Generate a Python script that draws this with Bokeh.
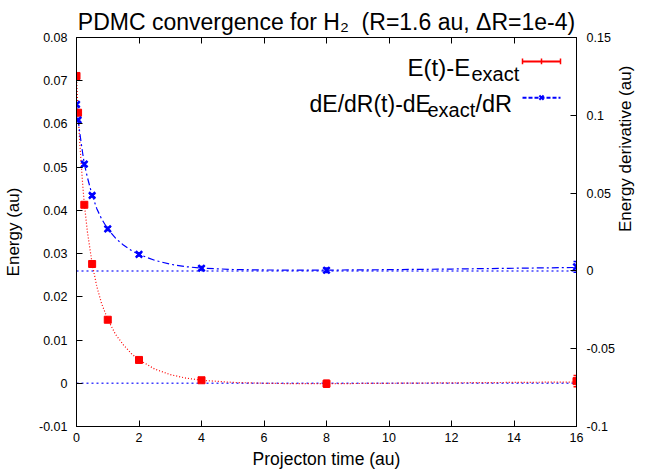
import math
from bokeh.plotting import figure
from bokeh.models import (Range1d, LinearAxis, FixedTicker, CustomJSTickFormatter,
                          Label, Whisker, TeeHead, ColumnDataSource)
from bokeh.embed import file_html
from bokeh.resources import INLINE

# ---------------- data ----------------
t_data = [0, 0.05, 0.25, 0.5, 1, 2, 4, 8, 16]
e_data = [0.0711, 0.0626, 0.0413, 0.0276, 0.0147, 0.0054, 0.0007, -0.0001, 0.0005]
e_err = [0.0004, 0.0004, 0.0003, 0.0003, 0.0003, 0.0003, 0.0004, 0.0008, 0.0013]
d_data = [0.107, 0.097, 0.0686, 0.0485, 0.027, 0.0106, 0.0017, 0.0004, 0.0026]
d_err = [0.001, 0.001, 0.001, 0.001, 0.001, 0.001, 0.0012, 0.0015, 0.0035]

t_fit = [0, 0.05, 0.1, 0.15, 0.2, 0.25, 0.35, 0.5, 0.65, 0.8, 1, 1.25, 1.5, 1.75,
         2, 2.5, 3, 3.5, 4, 5, 6, 7, 8, 10, 12, 14, 16]
e_fit = [0.0711, 0.0628, 0.0563, 0.0508, 0.0458, 0.0415, 0.0350, 0.0277, 0.0224,
         0.0185, 0.0148, 0.0113, 0.0089, 0.0069, 0.0054, 0.0033, 0.0020, 0.0012,
         0.0007, 0.0002, 0.0000, -0.0001, -0.0001, 0.0000, 0.0001, 0.0002, 0.0003]
d_fit = [0.107, 0.0975, 0.0895, 0.0822, 0.0753, 0.0688, 0.0600, 0.0487, 0.0400,
         0.0335, 0.0270, 0.0210, 0.0166, 0.0132, 0.0106, 0.0068, 0.0043, 0.0027,
         0.0018, 0.0009, 0.0006, 0.0005, 0.0005, 0.0008, 0.0012, 0.0017, 0.0022]

zero_t = [0, 16]
zero_v = [0, 0]

x_ticks = [0, 2, 4, 6, 8, 10, 12, 14, 16]
y_ticks = [-0.01, 0, 0.01, 0.02, 0.03, 0.04, 0.05, 0.06, 0.07, 0.08]
y2_ticks = [-0.1, -0.05, 0, 0.05, 0.1, 0.15]

title_text = "PDMC convergence for H\u2082 \u00a0(R=1.6 au, \u0394R=1e-4)"
leg1_main, leg1_sub = "E(t)-E", "exact"
leg2_main, leg2_sub, leg2_tail = "dE/dR(t)-dE", "exact", "/dR"
xlabel = "Projecton time (au)"
ylabel = "Energy (au)"
y2label = "Energy derivative (au)"

# ---------------- layout ----------------
W, H = 647, 471
FL, FR, FT, FB = 76, 576, 37, 428
XMIN, XMAX, YMIN, YMAX = 0, 16, -0.01, 0.08
FONT = "Liberation Sans"
RED = "#ff0000"
BLUE = "#0000ff"


def dx(px):
    return XMIN + (px - FL) * (XMAX - XMIN) / (FR - FL)


def dy(py):
    return YMIN + (FB - py) * (YMAX - YMIN) / (FB - FT)


p = figure(width=W, height=H, output_backend="svg", toolbar_location=None,
           x_range=Range1d(XMIN, XMAX), y_range=Range1d(YMIN, YMAX),
           min_border_left=FL, min_border_right=W - FR,
           min_border_top=FT, min_border_bottom=H - FB,
           title=title_text)
p.title.align = "center"
p.title.text_font = FONT
p.title.text_font_size = "23px"
p.title.text_font_style = "normal"
p.title.text_color = "black"
p.title.standoff = 5
p.extra_y_ranges = {"y2": Range1d(-0.1, 0.15)}
p.xgrid.visible = False
p.ygrid.visible = False
p.outline_line_color = "black"
p.outline_line_width = 1
p.background_fill_color = "white"
p.border_fill_color = "white"

fmt_code = "return String(Math.round(tick*10000)/10000);"


def style(ax, ticks, standoff, labels=True):
    ax.ticker = FixedTicker(ticks=ticks, minor_ticks=[])
    if labels:
        ax.formatter = CustomJSTickFormatter(code=fmt_code)
    else:
        ax.formatter = CustomJSTickFormatter(code="return '';")
    ax.major_tick_in = 6
    ax.major_tick_out = 0
    ax.minor_tick_in = 0
    ax.minor_tick_out = 0
    ax.axis_line_color = "black"
    ax.major_tick_line_color = "black"
    ax.major_label_text_font = FONT
    ax.major_label_text_font_size = "12.5px"
    ax.major_label_text_color = "black"
    ax.major_label_standoff = standoff
    ax.axis_label_text_font = FONT
    ax.axis_label_text_font_style = "normal"
    ax.axis_label_text_color = "black"
    ax.axis_label_text_font_size = "17px"


style(p.xaxis[0], x_ticks, 6)
p.xaxis[0].axis_label = xlabel
p.xaxis[0].axis_label_standoff = 4
p.xaxis[0].axis_label_text_font_size = "17.5px"
style(p.yaxis[0], y_ticks, 9)
p.yaxis[0].axis_label = ylabel
p.yaxis[0].axis_label_standoff = 13
ax_r = LinearAxis(y_range_name="y2")
style(ax_r, y2_ticks, 10)
ax_r.axis_label = y2label
ax_r.axis_label_standoff = 8
ax_r.axis_label_orientation = math.pi / 2
p.add_layout(ax_r, "right")
ax_t = LinearAxis()
style(ax_t, x_ticks, 0, labels=False)
ax_t.major_label_text_font_size = "0px"
p.add_layout(ax_t, "above")

# zero lines
p.line(zero_t, zero_v, line_color=BLUE, line_dash="2 3", line_width=1.5, line_alpha=0.75)
p.line(zero_t, zero_v, y_range_name="y2", line_color=BLUE, line_dash="2 3",
       line_width=1.5, line_alpha=0.75)

# fit curves
p.line(t_fit, e_fit, line_color=RED, line_dash="1 2", line_width=1.2)
p.line(t_fit, d_fit, y_range_name="y2", line_color=BLUE, line_dash="7 3 2 3", line_width=1.2)

# error bars
src_e = ColumnDataSource(dict(t=t_data, lo=[v - e for v, e in zip(e_data, e_err)],
                              hi=[v + e for v, e in zip(e_data, e_err)]))
src_d = ColumnDataSource(dict(t=t_data, lo=[v - e for v, e in zip(d_data, d_err)],
                              hi=[v + e for v, e in zip(d_data, d_err)]))
p.add_layout(Whisker(source=src_e, base="t", lower="lo", upper="hi", dimension="height",
                     line_color=RED, line_width=1.5,
                     lower_head=TeeHead(size=6, line_color=RED, line_width=1.5),
                     upper_head=TeeHead(size=6, line_color=RED, line_width=1.5)))
p.add_layout(Whisker(source=src_d, base="t", lower="lo", upper="hi", dimension="height",
                     y_range_name="y2", line_color=BLUE, line_width=1.5,
                     lower_head=TeeHead(size=6, line_color=BLUE, line_width=1.5),
                     upper_head=TeeHead(size=6, line_color=BLUE, line_width=1.5)))

# points
p.scatter(t_data, e_data, marker="square", size=7, fill_color=RED, line_color=RED)
p.scatter(t_data, d_data, y_range_name="y2", marker="x", size=9, line_color=BLUE,
          line_width=2.5)


def lab(text, px, py, size, align="left", baseline="alphabetic", angle=0.0):
    p.add_layout(Label(x=dx(px), y=dy(py), text=text, text_font=FONT,
                       text_font_size=size, text_align=align, text_baseline=baseline,
                       angle=angle, text_color="black"))


# legend texts
lab(leg1_main, 407, 67, "24px")
lab(leg1_sub, 471, 73.5, "20px")
lab(leg2_main, 309, 103.5, "23px")
lab(leg2_sub, 427, 110, "20px")
lab(leg2_tail, 475, 103.5, "23.5px")

# legend samples
lx0, lx1, lxm = dx(522), dx(560), dx(541)
ly1, ly2 = dy(61), dy(97.5)
tick_h = dy(58) - dy(61)
p.segment([lx0], [ly1], [lx1], [ly1], line_color=RED, line_width=2)
p.segment([lx0, lxm, lx1], [ly1 - tick_h] * 3, [lx0, lxm, lx1], [ly1 + tick_h] * 3,
          line_color=RED, line_width=1.5)
p.segment([lx0], [ly2], [lx1], [ly2], line_color=BLUE, line_width=2, line_dash="4 2")
p.scatter([lxm], [ly2], marker="x", size=6, line_color=BLUE, line_width=2)

open("out.html", "w").write(file_html(p, INLINE))
